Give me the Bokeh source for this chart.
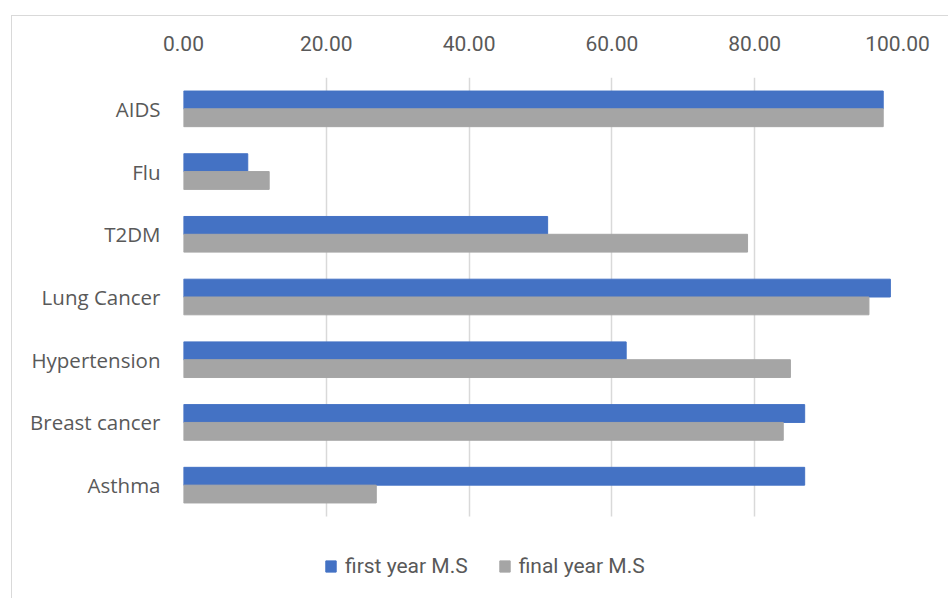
from bokeh.plotting import figure
from bokeh.models import ColumnDataSource, NumeralTickFormatter, FixedTicker, Legend, LegendItem, Range1d
from bokeh.transform import dodge
from bokeh.embed import file_html
from bokeh.resources import INLINE

# Mean scores per condition, first-year vs final-year students
conditions = ["AIDS", "Flu", "T2DM", "Lung Cancer", "Hypertension", "Breast cancer", "Asthma"]
first_year = [98, 9, 51, 99, 62, 87, 87]
final_year = [98, 12, 79, 96, 85, 84, 27]
x_ticks = [0, 20, 40, 60, 80, 100]

BLUE = "#4472C4"
GRAY = "#A5A5A5"
TEXT = "#595959"
GRID = "#D9D9D9"

# first condition at the top: numeric slot per row, counted from the bottom
n = len(conditions)
slots = [n - 1 - i for i in range(n)]
source = ColumnDataSource(dict(slot=slots, first=first_year, final=final_year))

# the frame runs down to the bottom edge so the legend can sit under the bars
legend_room = 83 / (439 / n)
p = figure(
    width=937, height=583,
    x_range=Range1d(0, 100),
    y_range=Range1d(-0.5 - legend_room, n - 0.5),
    x_axis_location="above",
    output_backend="svg",
    toolbar_location=None,
    min_border_left=171, min_border_right=52,
    min_border_top=61, min_border_bottom=0,
    margin=(15, 0, 0, 11),
    styles={"border-top": "1px solid #D9D9D9", "border-left": "1px solid #D9D9D9"},
)
p.outline_line_color = None
p.background_fill_color = "white"
p.border_fill_color = "white"

bar_h = 0.284
r1 = p.hbar(y=dodge("slot", bar_h / 2), right="first", left=0,
            height=bar_h, source=source, color=BLUE)
r2 = p.hbar(y=dodge("slot", -bar_h / 2), right="final", left=0,
            height=bar_h, source=source, color=GRAY)

# value axis on top
xa = p.xaxis[0]
xa.ticker = FixedTicker(ticks=x_ticks)
xa.formatter = NumeralTickFormatter(format="0.00")
xa.axis_line_color = None
xa.major_tick_line_color = None
xa.minor_tick_line_color = None
xa.major_label_text_font = "Roboto"
xa.major_label_text_font_size = "21px"
xa.major_label_text_color = TEXT
xa.major_label_standoff = 21

# category axis
ya = p.yaxis[0]
ya.ticker = FixedTicker(ticks=slots)
ya.major_label_overrides = {s: c for s, c in zip(slots, conditions)}
ya.axis_line_color = None
ya.major_tick_line_color = None
ya.minor_tick_line_color = None
ya.major_label_text_font = "Open Sans"
ya.major_label_text_font_size = "20.5px"
ya.major_label_text_color = TEXT
ya.major_label_standoff = 17

p.xgrid.grid_line_color = GRID
p.xgrid.grid_line_width = 1.5
p.xgrid.ticker = FixedTicker(ticks=x_ticks)
p.xgrid.cross_bounds = (-0.5, n - 0.5)
p.ygrid.grid_line_color = None

legend = Legend(
    items=[LegendItem(label="first year M.S", renderers=[r1]),
           LegendItem(label="final year M.S", renderers=[r2])],
    orientation="horizontal",
    location=(141, 21),
    glyph_width=13, glyph_height=14,
    label_standoff=8, spacing=30,
    padding=0, margin=0,
    border_line_color=None, background_fill_alpha=0,
    label_text_font="Roboto", label_text_font_size="21px",
    label_text_color=TEXT, label_height=20,
)
p.add_layout(legend, "center")

open("out.html", "w").write(file_html(p, INLINE))
